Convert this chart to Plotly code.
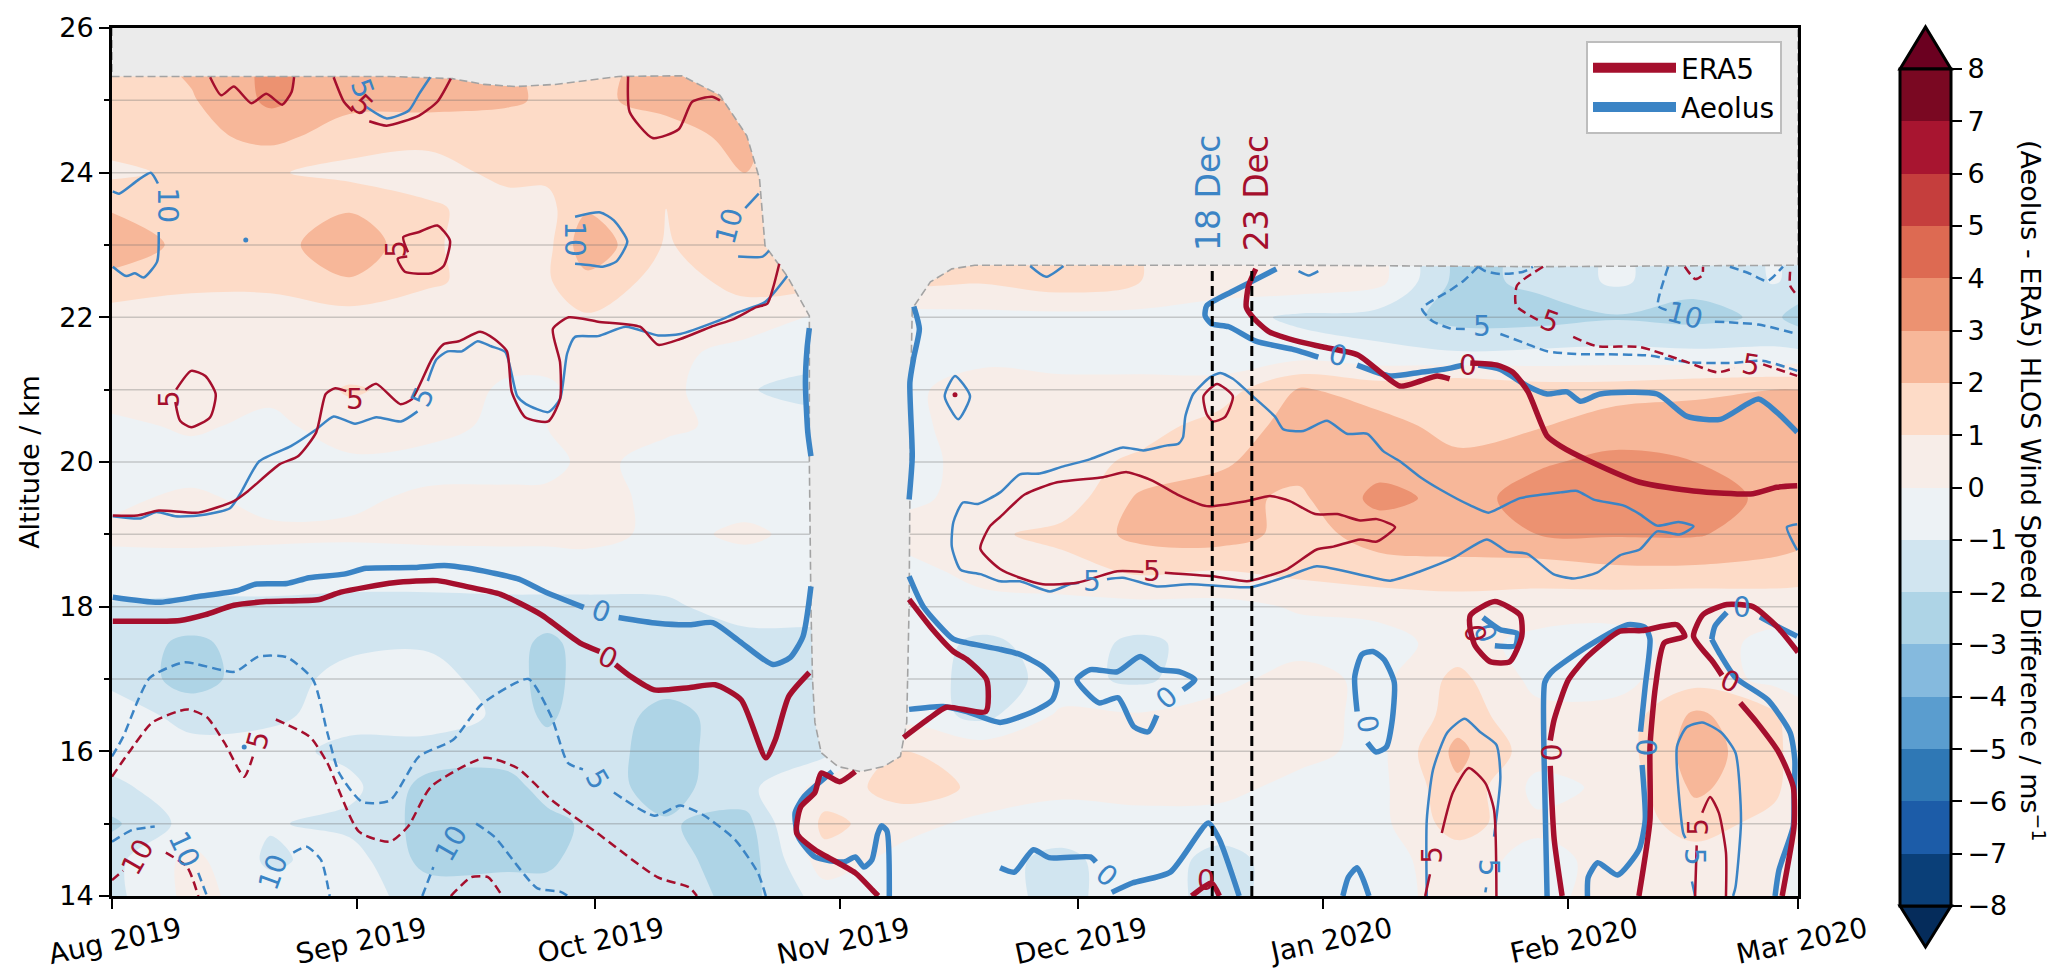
import pandas as pd
import plotly.graph_objects as go

# ---------------------------------------------------------------- data
START = pd.Timestamp("2019-08-01")
field_days = [0, 10, 20, 30, 40, 50, 55, 60, 70, 80, 90, 100, 110, 120, 130, 140, 150, 160, 170, 180, 190, 200, 210, 213]
field_km = [14, 14.5, 15, 15.5, 16, 16.5, 17, 17.5, 18, 18.5, 19, 19.5, 20, 20.5, 21, 21.5, 22, 22.5, 23, 23.5, 24, 24.5, 25, 25.5]
field_diff = [
 [-1.3,0.3,-0.5,-0.6,-1.4,-1.4,-1.4,-1.3,-1.4,-2.4,-0.5,-0.7,-0.6,-1.3,-0.4,-1.4,-0.4,-0.3,0.3,-0.3,0.4,0.4,0.3,-0.2],
 [-1.3,0.3,-1.2,-0.5,-2.4,-2.3,-2.3,-1.4,-1.6,-2.6,0.6,-0.4,-0.6,-1.3,-0.3,-1.4,-0.4,-0.3,0.4,-0.3,0.3,0.5,0.4,-0.3],
 [-2.2,-0.6,-0.9,-1.3,-2.3,-2.4,-2.4,-1.8,-1.9,-2.4,1.3,0.4,-0.3,-0.4,-0.3,-0.4,-0.4,-0.3,1.5,0.2,0.3,1.5,0.6,0.3],
 [-1.2,-0.5,-0.5,-0.7,-2.4,-2.5,-1.5,-1.5,-2.4,-1.3,0.4,1.5,0.8,0.2,0.3,0.3,-0.3,-0.3,1.8,-0.3,0.2,2.2,1.3,0.3],
 [-0.6,-0.6,-0.6,-1.3,-1.4,-1.4,-1.4,-1.4,-2.5,-1.3,-1.3,1.0,0.6,0.4,0.3,0.4,0.3,-0.3,2.3,0.4,0.4,2.5,1.3,0.5],
 [-0.4,-1.4,-1.2,-0.6,-0.5,-1.2,-2.3,-1.2,-2.4,-1.4,-1.3,-0.4,-1.3,0.2,0.1,0.4,0.4,-0.3,1.5,0.3,0.3,2.2,1.2,0.3],
 [-1.3,-2.4,-1.4,-0.7,-0.7,-1.4,-2.5,-1.4,-1.5,-1.3,-1.2,-0.4,-1.4,-0.7,-1.2,-0.3,0.4,-0.3,1.3,-0.3,-0.3,0.6,-0.3,-0.3],
 [-1.5,-2.2,-1.5,-1.2,-1.1,-1.5,-2.3,-1.5,-1.3,-1.4,-1.4,-0.5,-1.2,-0.6,-1.2,-0.6,-0.4,-0.4,0.4,-0.3,-0.3,0.3,-0.2,-0.2],
 [-1.1,-1.2,-1.2,-1.2,-1.2,-1.2,-1.2,-1.2,-1.2,-0.5,-0.4,-0.3,-0.3,-0.3,-0.3,-0.3,0.1,0.3,0.5,0.5,0.3,0.2,0.3,0.4],
 [-0.4,-0.5,-0.5,-0.7,-0.7,-0.6,-0.6,-0.6,-0.5,-0.5,-0.4,-0.3,0.3,0.6,1.2,1.0,1.3,1.6,1.7,1.5,1.8,1.8,1.7,1.5],
 [0.2,0.3,0.2,0.2,0.3,0.3,0.3,0.4,-0.3,0.2,-0.4,0.3,0.8,1.3,2.3,2.5,1.6,2.4,2.5,3.0,3.1,3.1,2.5,2.4],
 [-0.2,0.2,-0.3,-0.2,0.2,0.3,0.3,0.4,-0.3,-0.4,-0.5,-0.2,0.3,0.4,2.2,2.3,1.8,3.3,2.7,3.3,3.5,3.4,2.8,2.7],
 [-0.5,-0.5,-0.5,-0.2,-0.4,-0.5,-0.4,0.3,-0.4,-0.5,-0.5,-0.3,0.3,0.6,1.2,1.9,2.4,2.6,2.2,2.9,3.2,3.0,2.7,2.7],
 [-0.3,0.2,-0.3,0.6,0.4,-0.3,0.0,0.2,0.2,-0.3,-0.4,-0.3,0.5,0.5,0.6,1.4,2.4,2.3,1.7,1.9,2.6,2.5,2.8,2.5],
 [0.6,0.5,0.3,1.1,0.7,-0.2,-0.2,0.4,0.3,-0.9,-1.5,-0.3,0.6,0.3,0.3,0.5,2.1,1.6,1.9,1.5,1.5,1.8,2.0,2.0],
 [0.5,0.5,0.4,0.4,0.4,0.4,0.4,0.4,0.3,-0.4,-0.4,-0.3,-0.4,-0.4,-0.4,-0.7,-0.5,-0.8,-0.9,-0.8,-0.7,-0.8,-0.8,-0.8],
 [0.6,0.6,0.6,0.6,0.6,0.6,0.7,0.9,0.5,0.6,-0.2,-0.3,-0.3,-0.3,-0.3,-0.6,-1.2,-1.4,-2.4,-2.4,-2.1,-2.3,-1.8,-2.4],
 [1.6,1.2,1.2,1.9,1.1,0.7,0.9,1.7,0.6,1.3,1.0,1.0,1.1,1.6,1.0,0.6,0.7,0.3,-2.3,-1.8,-0.8,-1.7,-0.9,-1.3],
 [2.8,1.6,1.5,2.8,1.1,0.6,0.7,2.7,0.9,1.8,1.0,1.0,1.1,1.6,1.0,0.6,0.7,0.3,-2.3,-1.8,-0.8,-1.7,-0.9,-1.3],
 [1.9,1.4,1.3,1.9,1.1,0.7,0.7,1.9,1.0,1.4,1.0,1.0,1.1,1.6,1.0,0.6,0.7,0.3,-2.3,-1.8,-0.8,-1.7,-0.9,-1.3],
 [0.8,1.2,1.1,0.7,0.7,1.2,1.2,1.3,1.4,2.0,1.0,1.0,1.1,1.6,1.0,0.6,0.7,0.3,-2.3,-1.8,-0.8,-1.7,-0.9,-1.3],
 [1.4,1.7,2.3,1.5,1.2,1.6,1.4,1.3,1.6,2.3,1.0,1.0,1.1,1.6,1.0,0.6,0.7,0.3,-2.3,-1.8,-0.8,-1.7,-0.9,-1.3],
 [1.5,1.9,3.2,2.3,2.4,2.1,1.9,1.8,2.3,3.0,1.0,1.0,1.1,1.6,1.0,0.6,0.7,0.3,-2.3,-1.8,-0.8,-1.7,-0.9,-1.3],
 [1.5,2.2,3.2,2.5,2.4,2.1,1.7,1.5,2.5,3.5,1.0,1.0,1.1,1.6,1.0,0.6,0.7,0.3,-2.3,-1.8,-0.8,-1.7,-0.9,-1.3],
]

no_data_outline = [(0,26),(0,25.33),(35,25.33),(43,25.3),(47,25.22),(51,25.19),(56,25.22),(60,25.28),(64,25.33),(72,25.34),
 (76.8,25.07),(80.2,24.51),(81.8,23.92),(82.5,22.99),(85.3,22.57),(88.1,22.02),(88.1,20),(88.3,18),(88.5,17),(88.8,16.4),(89.6,15.98),
 (91.7,15.79),(94.6,15.72),(97.5,15.79),(99.6,15.93),(100.4,16.4),(100.7,18),(100.9,21),(101.1,22.12),(103.4,22.49),(106.1,22.67),
 (109,22.72),(150,22.72),(180,22.7),(213,22.72),(213,26)]

a0_1 = [(0.1,18.13),(5.9,18.06),(10.9,18.14),(15.8,18.22),(18.1,18.31),(22.1,18.32),(24.9,18.4),(29.3,18.45),(32.1,18.53),(37.9,18.54),(42,18.57),(45.1,18.53),(47.9,18.47),(51.4,18.38),(54.6,18.21),(59.6,17.99)]
a0_2 = [(64,17.85),(68.9,17.77),(73,17.75),(75.9,17.78),(79.3,17.52),(83.5,17.2),(85.7,17.3),(87.3,17.59),(88.3,18.28)]
a0_3 = [(88.1,21.85),(87.8,21.56),(87.6,21.1),(87.9,20.41),(88.3,20.08)]
a0_4 = [(101.3,22.15),(102,21.84),(101.3,21.45),(100.8,21.1),(101.1,20.08),(100.7,19.48)]
a0_5 = [(100.7,18.42),(102.5,18),(106.3,17.55),(108,17.5),(112.2,17.41),(114.7,17.34),(117.6,17.17),(119.4,16.96),(118.8,16.71),(116.4,16.55),(112.2,16.4),(108,16.55),(105,16.62),(100.7,16.58)]
a0_6 = [(135.3,16.85),(136.8,16.99),(134.9,17.1),(132.4,17.13),(129.9,17.31),(127,17.1),(123.6,17.13),(121.9,16.99),(124.7,16.67),(127.1,16.74),(129.1,16.34),(130.9,16.27),(132,16.5)]
a0_7 = [(112.2,14.39),(114,14.33),(116.4,14.64),(118.4,14.53),(123.6,14.54),(124.3,14.47)]
a0_8 = [(126.3,14.05),(128.9,14.18),(133.7,14.33),(138.5,15.01),(139.9,14.78),(142.4,14.0)]
a0_9 = [(91,15.72),(87.4,15.37),(86.3,15.15),(86.7,14.82),(88.8,14.54),(92.5,14.47),(93.9,14.54),(95,14.4),(96,14.5),(96.7,14.85),(97.2,14.97),(97.9,14.9),(98.2,14.0)]
a0_10 = [(157.3,16.55),(157,17.03),(157.9,17.34),(159.3,17.38),(160.7,17.27),(162,16.95),(161.7,16.4),(161,16.06),(159.7,15.99),(158.6,16.12)]
a0_11 = [(155.5,14),(156.2,14.26),(157.3,14.39),(158.1,14.22),(158.8,14)]
a0_12 = [(181.3,14),(181,15.51),(181,16.95),(181.8,17.09),(186.4,17.45),(191.5,17.75),(193.7,17.71),(194.3,17.55),(193.7,16.9),(193.1,16.27)]
a0_13 = [(193.3,15.81),(193.7,15.05),(192.9,14.64),(190.2,14.29),(187.7,14.46),(186.5,14.26),(186.4,14)]
a0_14 = [(202.1,17.55),(202.5,17.73),(204,17.92)]
a0_15 = [(208.2,17.86),(210.7,17.71),(212.9,17.59)]
a0_16 = [(202.1,17.55),(203,17.37),(205.1,17.02),(209.2,16.71),(212,16.26),(212.6,15.88),(212.5,15.37),(212.4,14.96),(210.6,14.36),(210.1,14)]
a0_17 = [(173.2,17.85),(175.4,17.68),(177.5,17.63),(177.3,17.46),(174.7,17.46)]
a0_18 = [(147.1,22.67),(143.9,22.49),(141.4,22.35),(138.3,22.16),(138.1,22.02),(138.9,21.91),(141.1,21.87),(144.5,21.67),(149.1,21.56),(152.4,21.45)]
a0_19 = [(157.3,21.34),(161.5,21.19),(165.3,21.24),(168.2,21.28),(170.7,21.34)]
a0_20 = [(172.6,21.34),(175.4,21.28),(178.8,21.05),(181.3,20.94),(183.8,20.97),(185.5,20.84),(188,20.94),(195.2,20.94),(199,20.63),(203.2,20.59),(208,20.87),(210.3,20.69),(212.9,20.41)]

e0_1 = [(0.1,17.8),(8.6,17.81),(11.8,17.89),(15.4,18.02),(19.5,18.07),(26.2,18.1),(28.9,18.2),(35.6,18.33),(41.1,18.36),(44.7,18.28),(49.1,18.17),(54.2,17.89),(59.1,17.5),(61.6,17.38)]
e0_2 = [(63.6,17.2),(65.6,17.03),(68.5,16.85),(72.9,16.88),(76.2,16.92),(79.5,16.71),(82.6,15.91),(83.8,16.16),(85.5,16.76),(88.1,17.09)]
e0_3 = [(100.7,18.1),(103.7,17.68),(106.3,17.38),(108,17.27),(110.5,16.99),(110.4,16.55),(105.4,16.61),(103.3,16.46),(100,16.19)]
e0_4 = [(93.9,15.72),(91.9,15.58),(89.6,15.7),(88.8,15.43),(87,15.23),(86.5,14.87),(88.8,14.64),(93.9,14.32),(96.1,14.08),(96.8,14)]
e0_5 = [(136.4,14),(138.9,14.18),(139.9,14)]
e0_6 = [(144.5,22.67),(143.6,22.44),(143.3,22.14),(144.3,21.98),(146.2,21.8),(150.1,21.66),(153,21.59),(157.4,21.48),(162.7,21.05),(165.3,21.12),(167.4,21.19),(169,21.15)]
e0_7 = [(171.6,21.37),(175,21.34),(177,21.24),(178.9,20.97),(181.3,20.36),(183,20.22),(186.7,20.01),(193,19.72),(199.8,19.6),(207.3,19.56),(210.3,19.65),(212.9,19.67)]
e0_8 = [(183.2,14),(182.2,14.78),(181.7,15.8)]
e0_9 = [(181.7,16.15),(182.2,16.44),(184,16.99),(186.4,17.31),(190.5,17.66),(193.3,17.67),(197.7,17.75),(198.7,17.59),(196.1,17.5),(195,16.9),(194.3,16.06),(194.3,15.05),(192.9,14)]
e0_10 = [(211,14),(211.6,14.36),(212.5,14.96),(212.4,15.51),(210.6,15.98),(207.8,16.4),(205.7,16.67)]
e0_11 = [(203.4,17.05),(202.3,17.23),(199.8,17.59),(201,17.89),(204,18.03),(207.3,18),(210.3,17.73),(213,17.37)]
e0_12 = [(171.6,17.88),(174.7,18.07),(177.9,17.88),(178.1,17.59),(176.6,17.24),(174.1,17.24),(172.2,17.46),(171.6,17.68),(171.6,17.88)]

e5_1 = [(12.4,25.32),(13.8,25.07),(15.4,25.19),(17.6,24.96),(19.5,25.09),(21.5,24.94),(22.7,25.12),(23,25.32)]
e5_2 = [(28,25.32),(29.3,24.98),(30.4,24.85)]
e5_3 = [(32.5,24.71),(34.7,24.65),(38.8,24.79),(41.1,24.98),(42.8,25.3)]
e5_4 = [(65.2,25.33),(65.4,24.84),(68.3,24.48),(71.6,24.6),(73.3,24.98),(75.8,25.05),(76.8,25.0)]
e5_5 = [(37.4,22.9),(36.8,23.11),(38.8,23.18),(41.1,23.27),(42.7,23.06),(41.9,22.71),(40.4,22.61),(37,22.63),(36.1,22.81),(37.3,22.84)]
e5_6 = [(8.1,21),(10,21.26),(11.8,21.19),(13.1,20.94),(12.4,20.62),(10,20.48),(8.6,20.57),(8,20.83)]
e5_7 = [(0.1,19.26),(3.2,19.26),(5.9,19.33),(10.9,19.3),(15.4,19.46),(17.2,19.6),(21.2,19.97),(23.5,20.08),(25.8,20.41),(27,20.94),(28.2,21.02),(29.6,20.98)]
e5_8 = [(32,21.0),(33.4,21.08),(36.4,20.8),(37.9,20.87),(40.4,21.42),(41.9,21.63),(43.8,21.67),(46.5,21.8),(48.3,21.7),(49.9,21.53),(50.5,20.97),(52.2,20.62),(55.1,20.56),(56.6,20.87),(56.6,21.38),(55.7,21.84),(57.7,22),(61.4,21.94),(66.7,21.87),(69,21.62),(71.8,21.7),(75.7,21.87),(78.6,21.98),(81.4,22.14),(82.8,22.19),(83.6,22.44),(84.3,22.74)]
e5_9 = [(137.9,20.91),(139.6,21.08),(141.6,20.91),(140.6,20.62),(139.1,20.56),(138.3,20.66),(137.9,20.91)]
e5_10 = [(130.3,18.48),(127,18.49),(121.9,18.33),(117.6,18.31),(114.7,18.4),(112.2,18.52),(109.7,18.8),(110.9,19.11),(112.2,19.24),(115.3,19.55),(119.4,19.72),(125.2,19.79),(128.2,19.86),(131.5,19.74),(134.6,19.55),(138.3,19.39),(143.4,19.46),(146.3,19.53),(148.8,19.46),(152,19.28),(154.8,19.28),(157.7,19.19),(159.8,19.21),(162.1,19.1),(159.8,18.9),(157.7,18.93),(154.3,18.83),(152.2,18.79),(148.5,18.52),(145.9,18.42),(143.4,18.35),(139.1,18.42),(133,18.47)]
e5_11 = [(165.9,14),(166.5,14.3)]
e5_12 = [(168,14.87),(169.4,15.43),(171.4,15.77),(173.5,15.56),(174.6,15.19),(174.9,14)]
e5_13 = [(200,14),(200.2,14.7)]
e5_14 = [(200.9,15.15),(201.9,15.37),(203,15.15),(203.9,14.6),(203.9,14)]

a5_1 = [(32.1,24.91),(34.7,24.75),(37.5,24.86),(38.8,25.09),(40.2,25.32)]
a5_2 = [(0.1,19.25),(3.6,19.22),(5.6,19.31),(8,19.25),(10.9,19.26),(14.9,19.36),(16.3,19.58),(18.6,20.01),(22.6,20.22),(25.8,20.45),(28,20.63),(30.7,20.53),(33.4,20.62),(36.5,20.56),(38.6,20.7)]
a5_3 = [(39.9,21.12),(41,21.42),(42.4,21.53),(44.2,21.53),(46.2,21.67),(47.9,21.6),(49.7,21.52),(51.2,20.91),(52.3,20.8),(55.1,20.69),(56.6,20.87),(57.5,21.5),(58.5,21.73),(61.4,21.74),(64.9,21.87),(69,21.75),(71.8,21.77),(76.3,21.94),(79.1,22.07),(82.5,22.21),(85.3,22.57)]
a5_4 = [(122.2,18.33),(121,18.31),(118.5,18.21),(114.7,18.35),(112.2,18.35),(109.7,18.45),(107.2,18.51),(106.1,18.83),(106.3,19.17),(107.5,19.44),(109.4,19.42),(112.2,19.58),(114.7,19.83),(117.2,19.84),(120.2,19.94),(123.6,20.04),(127.7,20.2),(130.3,20.16),(133.3,20.23),(134.7,20.25),(135.3,20.34),(135.6,20.63),(136.6,20.94),(138.7,21.17),(140,21.23),(141.6,21.15),(144.2,20.9),(146.9,20.63),(148,20.45),(150.5,20.43),(153.5,20.57),(156,20.39),(158.6,20.39),(160.6,20.15),(162.7,20.01),(165.3,19.79),(167.8,19.62),(171.6,19.4),(173.9,19.3),(175.4,19.37),(177.9,19.5),(183,19.58),(185.1,19.6),(187.2,19.48),(190.9,19.4),(193,19.28),(195.2,19.12),(197.9,19.17),(199.8,19.11),(198.1,19),(195.2,19.04),(193,18.79),(190.5,18.71),(187.6,18.47),(184.6,18.39),(182.1,18.45),(178.8,18.73),(176.3,18.76),(173.7,18.93),(169.4,18.67),(165.3,18.49),(161.5,18.36),(158.6,18.42),(152.2,18.56),(148.5,18.42),(143.8,18.27),(136.2,18.31),(132,18.28),(127.7,18.4),(125.7,18.38)]
a5_5 = [(106.5,21.19),(105.2,20.91),(106.9,20.59),(108.4,20.91),(106.5,21.19)]
a5_6 = [(166.1,14),(166.1,15.05),(166.9,15.75),(168.7,16.26),(170.9,16.45),(172.8,16.27),(174.9,16.09),(175.4,15.65),(174.6,14.82)]
a5_7 = [(173.5,14.05),(173.6,14.12)]
a5_8 = [(200,14),(199.6,14.2)]
a5_9 = [(198.8,14.8),(198.5,14.87),(197.7,16.06),(198.9,16.33),(200.9,16.4),(203.3,16.26),(205.1,15.98),(205.8,15.05),(205.1,14.12),(204.8,14)]
a5_10 = [(116,22.71),(118,22.56),(120.2,22.71)]
a5_11 = [(149.9,22.64),(151.2,22.58),(152.4,22.64)]
a5_12 = [(212.9,19.14),(211.6,19.1),(212.9,18.78)]

a10_1 = [(5.8,23.85),(4.9,24),(3.2,23.89),(0.9,23.71),(0.1,23.74)]
a10_2 = [(5.9,23.18),(5.7,22.77),(4,22.55),(2.9,22.61),(1.8,22.57),(0.1,22.7)]
a10_3 = [(58.5,23.39),(61.7,23.45),(63.4,23.34),(65.1,23.05),(63.7,22.77),(62,22.7),(60.5,22.72),(58.5,22.74)]
a10_4 = [(81.7,23.71),(80,23.51)]
a10_5 = [(79.1,22.84),(82.2,22.84),(83,22.92)]

a_neg5_1 = [(0,15.93),(1.4,16.2),(3.3,16.71),(4.8,17.02),(9.1,17.23),(15.5,17.1),(18.5,17.31),(22.1,17.3),(25.4,16.99),(27.2,16.26),(28.7,15.7),(31.6,15.3),(35.1,15.32),(38.8,15.93),(43.1,16.16),(46.7,16.65),(52.6,17),(55.5,16.48),(57.6,15.84),(59.5,15.75)]
a_neg5_2 = [(63.4,15.43),(68.5,15.11),(71.8,15.25),(74.7,15.12),(78.7,14.78),(81.6,14.32),(82.6,14)]
a_neg5_3 = [(172.6,22.7),(170.7,22.5),(169,22.37),(165.5,22.12),(166.8,21.95),(169,21.85),(171.4,21.84)]
a_neg5_4 = [(175.4,21.77),(178.8,21.63),(181.3,21.53),(185.5,21.49),(188.9,21.49),(194.3,21.47),(199,21.38),(204.8,21.37),(208.5,21.4),(212.9,21.26)]
a_neg5_5 = [(172.6,22.7),(173.5,22.64),(175.4,22.6),(178.3,22.63),(179.5,22.7)]
a_neg10_1 = [(0,14.75),(2.5,14.91),(5.4,14.96)]
a_neg10_2 = [(10.9,14.32),(12,14)]
a_neg10_3 = [(22.9,14.6),(24.6,14.68),(26.4,14.5),(27.5,14)]
a_neg10_4 = [(39.2,14),(40.6,14.4)]
a_neg10_5 = [(46,15),(48.3,14.82),(53.7,14.11),(56.6,14.06),(57.6,14)]
a_neg10_6 = [(196.6,22.7),(195.3,22.16),(196.4,22.1)]
a_neg10_7 = [(202.5,21.94),(208,21.9),(212.9,21.77)]
a_neg10_8 = [(204.4,22.7),(207,22.6),(209.1,22.5),(211.1,22.7)]

e_neg5_1 = [(0,15.65),(2.1,15.98),(5.1,16.4),(9.5,16.58),(12,16.47),(14.2,16.12),(16.7,15.65),(17.8,15.93)]
e_neg5_2 = [(20.7,16.44),(25,16.2),(27.2,15.84),(31.2,14.89),(35.1,14.75),(37.4,14.96),(40.3,15.51),(47.1,15.91),(51.2,15.77),(55.5,15.33),(61.3,14.87),(68.9,14.26),(72.9,14.12),(73.9,14)]
e_neg5_3 = [(180.8,22.7),(177.5,22.44),(177.4,22.16),(180.4,21.95)]
e_neg5_4 = [(184.6,21.73),(187.6,21.6),(193,21.59),(199,21.38),(202.8,21.24),(205,21.3)]
e_neg5_5 = [(208.6,21.35),(212.9,21.19)]
e_neg5_6 = [(198.7,22.7),(200,22.53),(200.9,22.58),(201,22.7)]
e_neg5_7 = [(212,22.63),(212,22.44),(212.9,22.3)]
e_neg10_1 = [(0,14.22),(1.4,14.35)]
e_neg10_2 = [(6.8,14.6),(9.5,14.4),(10.9,14)]
e_neg10_3 = [(42.8,14),(45.4,14.26),(47.5,14.26),(49.3,14)]

aeolus_zero = [a0_1,a0_2,a0_3,a0_4,a0_5,a0_6,a0_7,a0_8,a0_9,a0_10,a0_11,a0_12,a0_13,a0_14,a0_15,a0_16,a0_17,a0_18,a0_19,a0_20]
era5_zero = [e0_1,e0_2,e0_3,e0_4,e0_5,e0_6,e0_7,e0_8,e0_9,e0_10,e0_11,e0_12]
aeolus_pos = [a5_1,a5_2,a5_3,a5_4,a5_5,a5_6,a5_7,a5_8,a5_9,a5_10,a5_11,a5_12,a10_1,a10_2,a10_3,a10_4,a10_5]
era5_pos = [e5_1,e5_2,e5_3,e5_4,e5_5,e5_6,e5_7,e5_8,e5_9,e5_10,e5_11,e5_12,e5_13,e5_14]
aeolus_neg = [a_neg5_1,a_neg5_2,a_neg5_3,a_neg5_4,a_neg5_5,a_neg10_1,a_neg10_2,a_neg10_3,a_neg10_4,a_neg10_5,a_neg10_6,a_neg10_7,a_neg10_8]
era5_neg = [e_neg5_1,e_neg5_2,e_neg5_3,e_neg5_4,e_neg5_5,e_neg5_6,e_neg5_7,e_neg10_1,e_neg10_2,e_neg10_3]

aeolus_labels = [(61.8,17.93,"0",20),(31.6,25.16,"5",70),(7,23.54,"10",90),(58.5,23.08,"10",90),(78,23.27,"10",-75),(39.3,20.9,"5",-65),
 (123.8,18.35,"5",0),(61.3,15.61,"5",60),(9.1,14.64,"10",65),(20.3,14.33,"10",-70),(42.8,14.73,"10",-60),(133.3,16.74,"0",-40),
 (125.7,14.29,"0",40),(158.6,16.37,"0",80),(193.7,16.05,"0",90),(154.9,21.47,"0",15),(205.9,17.99,"0",0),(173.5,17.63,"0",70),
 (173.9,14.4,"5",90),(199.9,14.54,"5",90),(173.1,21.87,"5",0),(198.7,22.02,"10",15)]
era5_labels = [(62.6,17.3,"0",25),(30.7,20.87,"5",0),(7.2,20.87,"5",-90),(35.9,22.95,"5",-90),(31.6,24.93,"5",45),(131.4,18.49,"5",0),
 (18.5,16.16,"5",-75),(200.4,14.96,"5",-90),(166.9,14.57,"5",-90),(181.7,15.98,"0",90),(204.4,16.96,"0",25),(172.2,17.63,"0",80),
 (171.3,21.34,"0",0),(181.7,21.94,"5",20),(207,21.35,"5",10),(3.3,14.54,"10",-60),(138.2,14.22,"0",0)]

event_days = [139, 144]
event_names = ["18 Dec", "23 Dec"]
event_top_km = 22.7
event_label_km = 23.72
month_ticks = ["2019-08-01","2019-09-01","2019-10-01","2019-11-01","2019-12-01","2020-01-01","2020-02-01","2020-03-01"]
grid_km = [15,16,17,18,19,20,21,22,23,24,25]
band_colors = ["#0a3f78","#1c5ca8","#2f78b5","#5a9dcf","#85bade","#aed4e6","#d1e5f0","#edf2f5",
               "#f7ede8","#fddbc7","#f7b799","#ec9271","#dd6a52","#c53e3d","#a81530","#7a0822"]
a_dots = [(16.9,23.07),(16.7,16.06)]
e_dots = [(106.5,20.93)]

# ---------------------------------------------------------------- helpers
AEOLUS, ERA5 = "#3b84c5", "#a50f2d"
FONT = "DejaVu Sans"

def day(d):
    return START + pd.to_timedelta(d, unit="D")

def xs(points):
    return [day(p[0]) for p in points]

def ys(points):
    return [p[1] for p in points]

def segment(points, color, width, dash="solid"):
    return go.Scatter(x=xs(points), y=ys(points), mode="lines", showlegend=False, hoverinfo="skip",
                      line=dict(color=color, width=width, dash=dash, shape="spline", smoothing=0.6))

n = len(band_colors)
scale = []
for i, c in enumerate(band_colors):
    scale += [[i / n, c], [(i + 1) / n, c]]

fig = go.Figure()
fig.add_trace(go.Contour(
    x=[day(d) for d in field_days], y=field_km, z=field_diff,
    zmin=-8, zmax=8, colorscale=scale, hoverinfo="skip",
    contours=dict(coloring="fill", start=-8, end=8, size=1, showlines=False),
    line=dict(width=0, smoothing=1.0),
    colorbar=dict(x=1.0605, xanchor="left", xpad=0, y=0.4706, yanchor="middle", ypad=0,
                  lenmode="pixels", len=837, thicknessmode="pixels", thickness=51,
                  outlinecolor="black", outlinewidth=3, ticks="outside", ticklen=10, tickwidth=2,
                  tickcolor="black", tick0=-8, dtick=1, tickfont=dict(family=FONT, size=27, color="black")),
))
for km in grid_km:
    fig.add_trace(go.Scatter(x=[day(0), day(213)], y=[km, km], mode="lines", showlegend=False, hoverinfo="skip",
                             line=dict(color="rgba(110,110,110,0.33)", width=1.5)))
fig.add_trace(go.Scatter(x=xs(no_data_outline), y=ys(no_data_outline), mode="lines", fill="toself",
                         fillcolor="#ebebeb", showlegend=False, hoverinfo="skip",
                         line=dict(color="#a3a3a3", width=1.6, dash="8px,4px")))
for seg in aeolus_pos:
    fig.add_trace(segment(seg, AEOLUS, 2.5))
for seg in era5_pos:
    fig.add_trace(segment(seg, ERA5, 2.5))
for seg in aeolus_neg:
    fig.add_trace(segment(seg, AEOLUS, 2.5, "9px,5px"))
for seg in era5_neg:
    fig.add_trace(segment(seg, ERA5, 2.5, "9px,5px"))
for seg in aeolus_zero:
    fig.add_trace(segment(seg, AEOLUS, 5.5))
for seg in era5_zero:
    fig.add_trace(segment(seg, ERA5, 5.5))
fig.add_trace(go.Scatter(x=xs(a_dots), y=ys(a_dots), mode="markers", showlegend=False, hoverinfo="skip",
                         marker=dict(color=AEOLUS, size=5)))
fig.add_trace(go.Scatter(x=xs(e_dots), y=ys(e_dots), mode="markers", showlegend=False, hoverinfo="skip",
                         marker=dict(color=ERA5, size=5)))
for d in event_days:
    fig.add_trace(go.Scatter(x=[day(d), day(d)], y=[14, event_top_km], mode="lines", showlegend=False, hoverinfo="skip",
                             line=dict(color="black", width=3, dash="10px,5px")))
fig.add_trace(go.Scatter(x=[None], y=[None], mode="lines", name="ERA5", line=dict(color=ERA5, width=11)))
fig.add_trace(go.Scatter(x=[None], y=[None], mode="lines", name="Aeolus", line=dict(color=AEOLUS, width=11)))

P = 1686.0
H = 868.0
def px(v): return (v - 112) / P
def py(v): return (896 - v) / H

ann = []
for labels, color in ((aeolus_labels, AEOLUS), (era5_labels, ERA5)):
    for d, km, txt, ang in labels:
        ann.append(dict(x=day(d), y=km, xref="x", yref="y", text=txt, textangle=ang, showarrow=False,
                        font=dict(family=FONT, size=28, color=color), xanchor="center", yanchor="middle"))
for d, name, color, off in zip(event_days, event_names, (AEOLUS, ERA5), (-0.4, 0.7)):
    ann.append(dict(x=day(d + off), y=event_label_km, xref="x", yref="y", text=name, textangle=-90, showarrow=False,
                    font=dict(family=FONT, size=33, color=color), xanchor="center", yanchor="middle"))
ann.append(dict(x=px(2033), y=py(490), xref="paper", yref="paper", showarrow=False, textangle=90,
                text="(Aeolus - ERA5) HLOS Wind Speed Difference / ms<sup>−1</sup>",
                font=dict(family=FONT, size=27, color="black"), xanchor="center", yanchor="middle"))

shapes = [
    dict(type="path", xref="paper", yref="paper", fillcolor="#6b0020", line=dict(color="black", width=3),
         path=f"M {px(1900)} {py(69)} L {px(1925.5)} {py(27)} L {px(1951)} {py(69)} Z"),
    dict(type="path", xref="paper", yref="paper", fillcolor="#052c5b", line=dict(color="black", width=3),
         path=f"M {px(1900)} {py(906)} L {px(1925.5)} {py(947)} L {px(1951)} {py(906)} Z"),
]

fig.update_layout(
    width=2067, height=977, margin=dict(l=112, r=269, t=28, b=81, pad=0),
    paper_bgcolor="white", plot_bgcolor="white", font=dict(family=FONT, size=27, color="black"),
    annotations=ann, shapes=shapes,
    legend=dict(x=px(1586), y=py(41), xanchor="left", yanchor="top", bgcolor="white", bordercolor="#bdbdbd",
                borderwidth=2, itemwidth=83, font=dict(family=FONT, size=28, color="black")),
    xaxis=dict(type="date", range=[day(0), day(213)], tickmode="array", tickvals=month_ticks,
               ticktext=["Aug 2019","Sep 2019","Oct 2019","Nov 2019","Dec 2019","Jan 2020","Feb 2020","Mar 2020"],
               tickangle=-12, ticks="outside", ticklen=10, tickwidth=2, tickcolor="black", ticklabelshift=68,
               ticklabelstandoff=-6,
               showline=True, linecolor="black", linewidth=3, mirror=True, showgrid=False, zeroline=False,
               tickfont=dict(family=FONT, size=28, color="black"), automargin=False),
    yaxis=dict(range=[14, 26], tickmode="array", tickvals=[14,16,18,20,22,24,26], ticks="outside", ticklen=10, tickwidth=2,
               tickcolor="black", showline=True, linecolor="black", linewidth=3, mirror=True, showgrid=False, zeroline=False,
               minor=dict(tickmode="array", tickvals=[15,17,19,21,23,25], ticks="outside", ticklen=5, tickwidth=2, tickcolor="black", showgrid=False),
               tickfont=dict(family=FONT, size=27, color="black"), automargin=False,
               title=dict(text="Altitude / km", standoff=12, font=dict(family=FONT, size=27, color="black"))),
)
fig.write_html("out.html", post_script="document.body.style.margin='0';", config=dict(displayModeBar=False))
